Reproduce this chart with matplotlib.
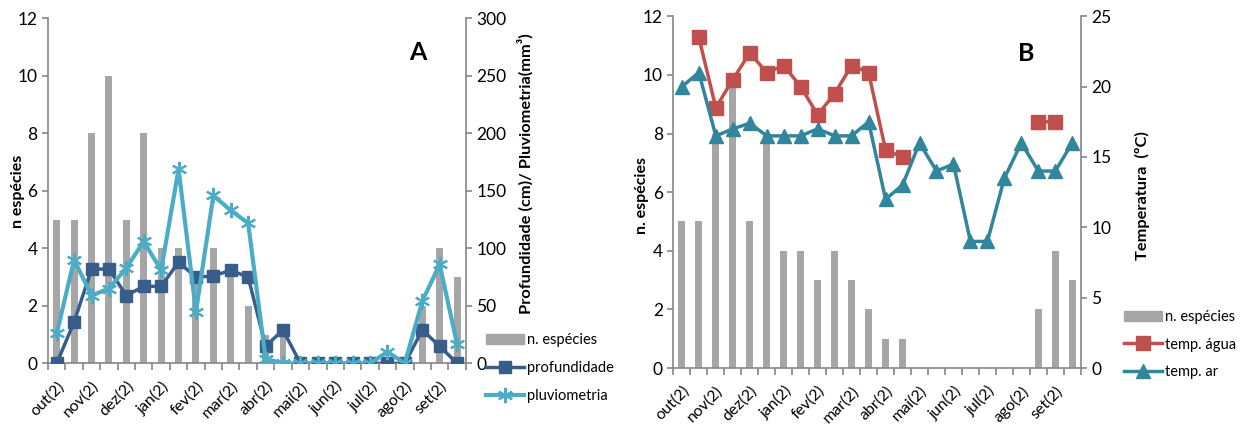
import numpy as np
import matplotlib
matplotlib.use("Agg")
import matplotlib.pyplot as plt
from matplotlib.patches import Patch
from matplotlib.lines import Line2D

plt.rcParams['font.family'] = ['Lato', 'DejaVu Sans']

# rótulos do eixo x (um a cada duas coletas)
meses = ["out(2)", "nov(2)", "dez(2)", "jan(2)", "fev(2)", "mar(2)",
         "abr(2)", "mai(2)", "jun(2)", "jul(2)", "ago(2)", "set(2)"]

# número de espécies por coleta (24 coletas)
n_especies = [5, 5, 8, 10, 5, 8, 4, 4, 3, 4, 3, 2,
              1, 1, 0, 0, 0, 0, 0, 0, 0, 2, 4, 3]

# painel A
profundidade = [0, 36, 82, 82, 59, 67, 67, 88, 75, 76, 81, 75,
                15, 29, 0, 0, 0, 0, 0, 0, 0, 29, 15, 0]
pluviometria = [26, 90, 59, 65, 83, 106, 81, 169, 45, 146, 133, 122,
                4, 0, 0, 0, 0, 0, 0, 10, 0, 54, 86, 17]

# painel B
nan = np.nan
temp_agua = [nan, 23.5, 18.5, 20.5, 22.4, 21.0, 21.5, 20.0, 18.0, 19.5, 21.5, 21.0,
             15.5, 15.0, nan, nan, nan, nan, nan, nan, nan, 17.5, 17.5, nan]
temp_ar = [20.0, 21.0, 16.5, 17.0, 17.4, 16.5, 16.5, 16.5, 17.0, 16.5, 16.5, 17.5,
           12.0, 13.0, 16.0, 14.0, 14.5, 9.0, 9.0, 13.5, 16.0, 14.0, 14.0, 16.0]

CINZA = '#A6A6A6'
EIXO = '#868686'
AZUL_ESC = '#385D8A'
AZUL_CLA = '#4BACC6'
VERMELHO = '#C0504D'
TEAL = '#31859C'
ASTER = (6, 2, 0)

x = np.arange(len(n_especies))


def estilo_eixos(ax, ax2):
    for a in (ax, ax2):
        a.spines['top'].set_visible(False)
        for s in ('left', 'right', 'bottom'):
            a.spines[s].set_color(EIXO)
            a.spines[s].set_linewidth(1.2)
        a.tick_params(axis='y', colors=EIXO, labelcolor='black', labelsize=12.5,
                      length=4, width=1.2, direction='out')
    ax.spines['right'].set_visible(False)
    ax2.spines['left'].set_visible(False)
    ax2.spines['bottom'].set_visible(False)
    ax.set_xlim(-0.5, len(x) - 0.5)
    ax.set_xticks(np.arange(-0.5, len(x), 1.0))
    ax.set_xticklabels([])
    ax.tick_params(axis='x', which='major', colors=EIXO, length=5, width=1.2)
    ax.set_xticks(x[::2], minor=True)
    ax.set_xticklabels(meses, minor=True, rotation=45, ha='right',
                       rotation_mode='anchor', fontsize=11.5)
    ax.tick_params(axis='x', which='minor', length=0, pad=11)
    ax.set_ylim(0, 12)
    ax.set_yticks(range(0, 13, 2))


fig = plt.figure(figsize=(12.47, 4.28), dpi=100)

# ---- Painel A ----
axA = fig.add_axes([0.0385, 0.151, 0.335, 0.806])
axA2 = axA.twinx()
axA.bar(x, n_especies, width=0.4, color=CINZA, zorder=1)
axA2.plot(x, profundidade, color=AZUL_ESC, lw=2.5, marker='s', ms=9, zorder=3)
axA2.plot(x, pluviometria, color=AZUL_CLA, lw=3, marker=ASTER, ms=11,
          mew=1.5, zorder=4)
axA2.set_ylim(0, 300)
axA2.set_yticks(range(0, 301, 50))
estilo_eixos(axA, axA2)
axA.set_ylabel('n espécies', fontsize=11.5, fontweight='bold', labelpad=-5)
axA2.set_ylabel('Profundidade (cm)/ Pluviometria(mm³)', fontsize=11.8,
                fontweight='bold', labelpad=8, y=0.55)
axA.text(0.885, 0.9, 'A', transform=axA.transAxes, fontsize=18,
         fontweight='bold', ha='center', va='center')

handlesA = [Patch(color=CINZA),
            Line2D([], [], color=AZUL_ESC, lw=2.5, marker='s', ms=9),
            Line2D([], [], color=AZUL_CLA, lw=3, marker=ASTER, ms=11, mew=1.5)]
fig.legend(handlesA, ['n. espécies', 'profundidade', 'pluviometria'],
           loc='upper left', bbox_to_anchor=(0.385, 0.235), frameon=False,
           fontsize=10.5, handlelength=2.6, handletextpad=0.2,
           labelspacing=0.95, borderaxespad=0)

# ---- Painel B ----
axB = fig.add_axes([0.540, 0.140, 0.3267, 0.822])
axB2 = axB.twinx()
axB.bar(x, n_especies, width=0.4, color=CINZA, zorder=1)
axB2.plot(x, temp_agua, color=VERMELHO, lw=2.5, marker='s', ms=10, zorder=3)
axB2.plot(x, temp_ar, color=TEAL, lw=2.5, marker='^', ms=10, zorder=4)
axB2.set_ylim(0, 25)
axB2.set_yticks(range(0, 26, 5))
estilo_eixos(axB, axB2)
axB.set_ylabel('n. espécies', fontsize=11.5, fontweight='bold', labelpad=-4,
               y=0.49)
axB2.set_ylabel('Temperatura  (ºC)', fontsize=11.8, fontweight='bold',
                labelpad=17, y=0.49)
axB.text(0.865, 0.895, 'B', transform=axB.transAxes, fontsize=18,
         fontweight='bold', ha='center', va='center')

handlesB = [Patch(color=CINZA),
            Line2D([], [], color=VERMELHO, lw=2.5, marker='s', ms=10),
            Line2D([], [], color=TEAL, lw=2.5, marker='^', ms=10)]
fig.legend(handlesB, ['n. espécies', 'temp. água', 'temp. ar'],
           loc='upper left', bbox_to_anchor=(0.897, 0.29), frameon=False,
           fontsize=10.5, handlelength=2.6, handletextpad=0.2,
           labelspacing=0.95, borderaxespad=0)

fig.savefig('out.png', dpi=100)
